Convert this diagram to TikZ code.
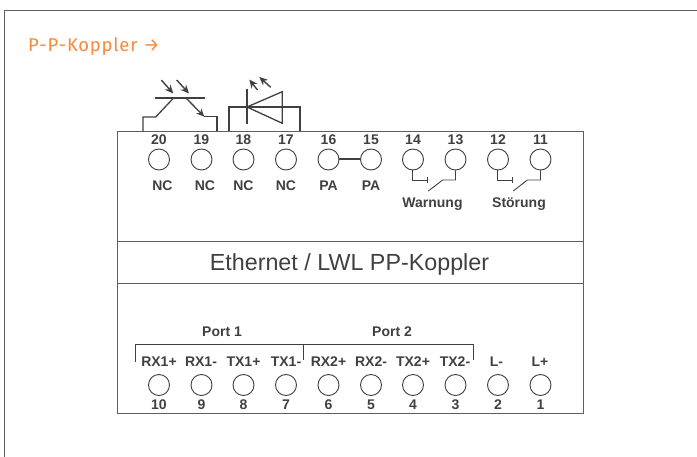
\documentclass[tikz,border=0pt]{standalone}
\usepackage{fontspec}
\setmainfont{Liberation Sans}
\newfontfamily\headfont[LetterSpace=4]{Fira Sans}
\usetikzlibrary{arrows.meta}
\definecolor{ink}{HTML}{404040}
\definecolor{boxline}{HTML}{5F5F5F}
\definecolor{accent}{HTML}{F58A3C}
\tikzset{
  term/.style={circle,draw=ink,line width=0.9pt,minimum size=21pt,inner sep=0pt,fill=white},
  lab/.style={font=\bfseries\fontsize{14}{14}\selectfont,text=ink,inner sep=0pt,anchor=center},
  wire/.style={draw=ink,line width=0.9pt},
  sym/.style={draw=ink,line width=1.3pt},
  ray/.style={draw=ink,line width=1.4pt,-{Stealth[length=8.5pt,width=7.5pt]}},
  outline/.style={draw=boxline,line width=0.9pt}
}
\begin{document}
\begin{tikzpicture}[x=1pt,y=-1pt]
\useasboundingbox (0,0) rectangle (697,457);
% page frame
\coordinate (fa) at (4.5,457); \coordinate (fb) at (4.5,10.5); \coordinate (fc) at (697,10.5);
\draw[draw=boxline,line width=1pt] (fa) -- (fb) -- (fc);
\node[anchor=west,inner sep=0pt,text=accent,font=\headfont\fontsize{18.5}{18.5}\selectfont] (head) at (28,47) {P-P-Koppler →};
% housing
\node[outline,minimum width=465.5pt,minimum height=281.5pt,inner sep=0pt,anchor=north west] (housing) at (117,131.5) {};
\coordinate (s1l) at (117,241); \coordinate (s1r) at (582.5,241);
\coordinate (s2l) at (117,283); \coordinate (s2r) at (582.5,283);
\draw[outline] (s1l) -- (s1r);
\draw[outline] (s2l) -- (s2r);
\node[inner sep=0pt,text=ink,font=\fontsize{23.3}{23.3}\selectfont] (title) at (349.5,264) {Ethernet / LWL PP-Koppler};
% top terminals
\foreach \n/\x in {20/159,19/201.5,18/243.5,17/286,16/328.5,15/371,14/413,13/455.5,12/498,11/540.5}{
  \node[term] (t\n) at (\x,159.5) {};
  \node[lab] (tn\n) at (\x,139.5) {\n};
}
\node[lab] (nc20) at (162.5,185.5) {NC};
\node[lab] (nc19) at (205,185.5) {NC};
\node[lab] (nc18) at (243.5,185.5) {NC};
\node[lab] (nc17) at (286,185.5) {NC};
\node[lab] (pa16) at (328.5,185.5) {PA};
\node[lab] (pa15) at (371,185.5) {PA};
\node[lab] (warn) at (432.5,204.5) {Warnung};
\node[lab] (stoer) at (519,204.5) {Störung};
\draw[ink,line width=2pt] (t16) -- (t15);
% relay contacts
\coordinate (r14) at (427.5,180); \coordinate (r13) at (442.7,180); \coordinate (r13e) at (428.3,191);
\coordinate (r12) at (512.3,180); \coordinate (r11) at (527.3,180); \coordinate (r11e) at (513.3,191);
\draw[wire] (t14.south) ++(-0.7,0) |- (r14);
\draw[wire] ([yshift=-2.7pt]r14) -- ([yshift=2.7pt]r14);
\draw[wire] (t13.south) |- (r13) -- (r13e);
\draw[wire] (t12.south) ++(-0.7,0) |- (r12);
\draw[wire] ([yshift=-2.7pt]r12) -- ([yshift=2.7pt]r12);
\draw[wire] (t11.south) |- (r11) -- (r11e);
% optocoupler
\coordinate (obl) at (155,98.3); \coordinate (obr) at (205,98.3);
\coordinate (ol0) at (143,131.5); \coordinate (ol1) at (143,117); \coordinate (ol2) at (155.7,117); \coordinate (ol3) at (173.3,98.3);
\coordinate (or0) at (217,131.5); \coordinate (or1) at (217,116.7); \coordinate (or2) at (204.3,116.7); \coordinate (or3) at (186.3,98.3);
\draw[sym,line width=1.6pt] (obl) -- (obr);
\draw[sym,line join=miter] (ol0) -- (ol1) -- (ol2) -- (ol3);
\draw[sym] (or0) -- (or1) -- (or2);
\draw[sym,-{Stealth[length=8pt,width=7pt]}] (or3) -- (or2);
\coordinate (ra1) at (161.3,80); \coordinate (ra2) at (173.3,93.5);
\coordinate (rb1) at (176.7,80); \coordinate (rb2) at (189,93.5);
\draw[ray] (ra1) -- (ra2);
\draw[ray] (rb1) -- (rb2);
% LED
\coordinate (lw0) at (229,131.5); \coordinate (lw1) at (229,107); \coordinate (lw2) at (300,107); \coordinate (lw3) at (300,131.5);
\draw[sym] (lw0) -- (lw1) -- (lw2) -- (lw3);
\coordinate (lb1) at (247,89.3); \coordinate (lb2) at (247,124);
\draw[sym,line width=1.6pt] (lb1) -- (lb2);
\coordinate (ltip) at (247,107); \coordinate (lt1) at (282.3,91.7); \coordinate (lt2) at (282.3,123.3);
\draw[sym,line join=miter] (ltip) -- (lt1) -- (lt2) -- cycle;
\coordinate (la1) at (257.5,90); \coordinate (la2) at (249.3,79.5);
\coordinate (lc1) at (270.7,87.3); \coordinate (lc2) at (259.3,77);
\draw[ray] (la1) -- (la2);
\draw[ray] (lc1) -- (lc2);
% bottom terminals
\foreach \n/\x in {10/159,9/201.5,8/243.5,7/286,6/328.5,5/371,4/413,3/455.5,2/498,1/540.5}{
  \node[term] (b\n) at (\x,385) {};
  \node[lab] (bn\n) at (\x,404.5) {\n};
}
\foreach \n/\x/\t in {10/159/RX1+,9/201/RX1-,8/243.5/TX1+,7/286/TX1-,6/328.5/RX2+,5/371/RX2-,4/413/TX2+,3/455/TX2-,2/496.5/L-,1/540/L+}{
  \node[lab] (bl\n) at (\x,361.5) {\t};
}
\node[lab] (p1) at (222,331.5) {Port 1};
\node[lab] (p2) at (392,331.5) {Port 2};
\coordinate (bk1) at (135,362); \coordinate (bk2) at (135,344.5); \coordinate (bk3) at (473,344.5); \coordinate (bk4) at (473,360);
\coordinate (bk5) at (303.5,344.5); \coordinate (bk6) at (303.5,360);
\draw[wire,line width=0.7pt] (bk1) -- (bk2) -- (bk3) -- (bk4);
\draw[wire,line width=0.7pt] (bk5) -- (bk6);
\end{tikzpicture}
\end{document}
